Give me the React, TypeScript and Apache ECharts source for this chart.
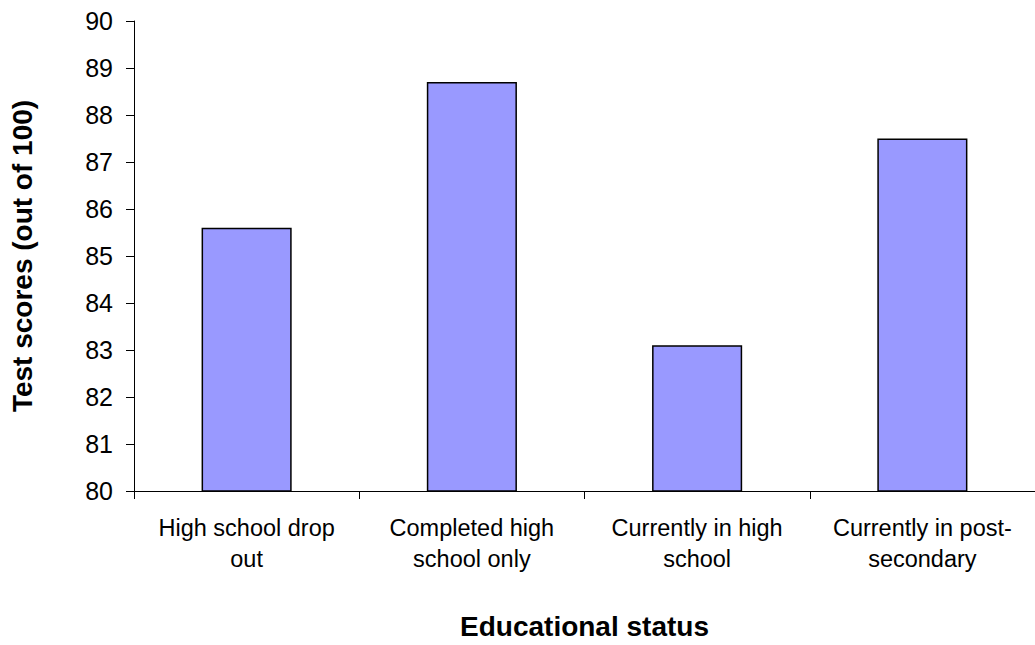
import React, { useEffect, useRef } from "react";
import * as echarts from "echarts";

const categories: string[] = [
  "High school drop\nout",
  "Completed high\nschool only",
  "Currently in high\nschool",
  "Currently in post-\nsecondary",
];
const scores: number[] = [85.6, 88.7, 83.1, 87.5];
const yMin = 80;
const yMax = 90;
const yStep = 1;
const xTitle = "Educational status";
const yTitle = "Test scores (out of 100)";

const FONT = "'Liberation Sans', Arial, sans-serif";

export default function App() {
  const ref = useRef<HTMLDivElement>(null);

  useEffect(() => {
    if (!ref.current) return;
    const chart = echarts.init(ref.current, undefined, { renderer: "svg" });
    chart.setOption({
      animation: false,
      backgroundColor: "#ffffff",
      grid: { left: 133, top: 21, width: 910, height: 471.5, containLabel: false },
      xAxis: {
        type: "category",
        data: categories,
        name: xTitle,
        nameLocation: "middle",
        nameGap: 121,
        nameTextStyle: { fontFamily: FONT, fontSize: 28, fontWeight: "bold", color: "#000" },
        axisLine: { show: true, lineStyle: { color: "#000", width: 1 } },
        axisTick: { show: true, length: 8, interval: 0, lineStyle: { color: "#000" } },
        axisLabel: {
          interval: 0,
          margin: 21,
          fontFamily: FONT,
          fontSize: 23.5,
          lineHeight: 31,
          color: "#000",
        },
        splitLine: { show: false },
      },
      yAxis: {
        type: "value",
        min: yMin,
        max: yMax,
        interval: yStep,
        name: yTitle,
        nameLocation: "middle",
        nameGap: 98,
        nameRotate: 90,
        nameTextStyle: { fontFamily: FONT, fontSize: 28, fontWeight: "bold", color: "#000" },
        axisLine: { show: true, lineStyle: { color: "#000", width: 1 } },
        axisTick: { show: true, length: 8, lineStyle: { color: "#000" } },
        axisLabel: { margin: 21, fontFamily: FONT, fontSize: 25, color: "#000" },
        splitLine: { show: false },
      },
      series: [
        {
          type: "bar",
          data: scores,
          barWidth: "40%",
          itemStyle: { color: "#9999FF", borderColor: "#000", borderWidth: 1.5 },
        },
      ],
    });
    return () => chart.dispose();
  }, []);

  return (
    <div
      ref={ref}
      style={{ position: "fixed", left: 0, top: 0, width: 1035, height: 645, background: "#fff" }}
    />
  );
}
